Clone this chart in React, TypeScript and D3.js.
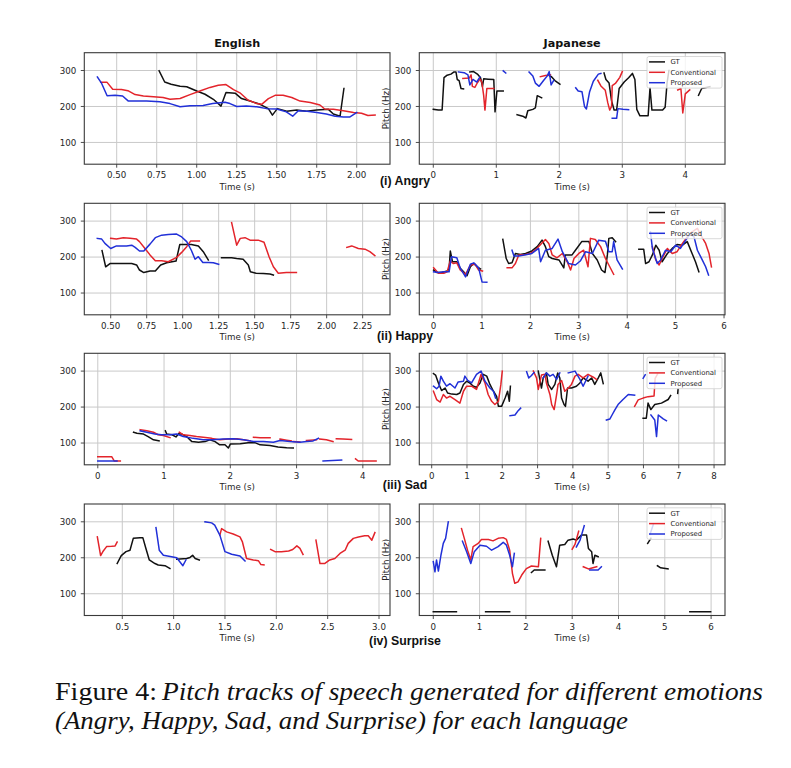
import React from 'react';
import * as d3 from 'd3';

type Pt = [number, number];
type Seg = Pt[];

// ---------- DATA ----------
const columnTitles = ['English', 'Japanese'];
const rowLabels = ['(i) Angry', '(ii) Happy', '(iii) Sad', '(iv) Surprise'];
const seriesNames = ['GT', 'Conventional', 'Proposed'];
const yTicks = [100, 200, 300];

const enAngryTicks = [0.5, 0.75, 1.0, 1.25, 1.5, 1.75, 2.0];
const jaAngryTicks = [0, 1, 2, 3, 4];
const enHappyTicks = [0.5, 0.75, 1.0, 1.25, 1.5, 1.75, 2.0, 2.25];
const jaHappyTicks = [0, 1, 2, 3, 4, 5, 6];
const enSadTicks = [0, 1, 2, 3, 4];
const jaSadTicks = [0, 1, 2, 3, 4, 5, 6, 7, 8];
const enSurpTicks = [0.5, 1.0, 1.5, 2.0, 2.5, 3.0];
const jaSurpTicks = [0, 1, 2, 3, 4, 5, 6];

const enAngryGT: Seg[] = [[[0.765,299],[0.80,268],[0.84,262],[0.896,256],[0.9375,255],[1.0,243],[1.052,234],[1.104,220],[1.152,201],[1.183,239],[1.24,237],[1.28,222],[1.333,215],[1.396,206],[1.448,194],[1.473,176],[1.504,194],[1.5625,187],[1.625,190],[1.6875,187],[1.75,190],[1.823,192],[1.854,179],[1.896,173],[1.92,250]]];
const enAngryConv: Seg[] = [[[0.40,267],[0.44,267],[0.475,248],[0.53,247],[0.57,244],[0.615,233],[0.667,229],[0.73,227],[0.79,225],[0.833,220],[0.896,222],[0.958,233],[1.02,243],[1.083,253],[1.135,259],[1.183,261],[1.23,247],[1.27,238],[1.32,218],[1.375,208],[1.406,206],[1.448,222],[1.49,231],[1.54,231],[1.594,225],[1.646,215],[1.71,211],[1.77,204],[1.80,193],[1.854,192],[1.917,188],[1.98,183],[2.03,181],[2.07,175],[2.115,176]]];
const enAngryProp: Seg[] = [[[0.379,282],[0.406,264],[0.44,230],[0.49,231],[0.537,229],[0.573,215],[0.625,215],[0.6875,215],[0.77,213],[0.833,208],[0.896,199],[0.958,202],[1.04,203],[1.10,208],[1.177,212],[1.208,208],[1.25,200],[1.31,201],[1.375,199],[1.4375,194],[1.5,193],[1.56,185],[1.60,173],[1.635,188],[1.69,187],[1.75,183],[1.81,179],[1.865,173],[1.917,171],[1.958,171],[2.0,183]]];

const jaAngryGT: Seg[] = [
  [[0,192],[0.08,190],[0.14,190],[0.17,280],[0.22,287],[0.28,290],[0.33,296],[0.36,296],[0.38,275],[0.41,272],[0.44,250],[0.48,249]],
  [[0.58,296],[0.64,297],[0.70,290],[0.75,280],[0.78,255],[0.80,277],[0.87,276],[0.96,275],[0.98,185],[1.01,243],[1.11,243]],
  [[1.33,177],[1.42,173],[1.47,168],[1.50,188],[1.58,192],[1.62,196],[1.65,230],[1.72,224]],
  [[1.83,287],[1.88,282],[1.93,272],[2.01,262]],
  [[2.71,293],[2.74,275],[2.79,265],[2.83,215],[2.87,190],[2.91,190],[2.95,250],[3.03,268],[3.10,280],[3.16,292],[3.20,275],[3.23,192],[3.28,174],[3.41,174],[3.44,252],[3.47,190],[3.64,190],[3.68,198],[3.71,265],[3.74,300]],
  [[4.21,231],[4.26,250],[4.39,255]],
];
const jaAngryConv: Seg[] = [
  [[0.47,278],[0.57,279],[0.60,288],[0.62,256],[0.66,253],[0.70,266],[0.74,276],[0.77,268],[0.80,230],[0.82,190],[0.85,250],[0.96,250]],
  [[1.70,283],[1.78,286],[1.86,288]],
  [[2.61,273],[2.66,257],[2.73,245],[2.77,210],[2.80,190],[2.83,200],[2.84,258],[2.89,264],[2.96,281],[3.0,297]],
  [[3.88,246],[3.93,250],[3.96,182],[4.0,235],[4.07,246]],
];
const jaAngryProp: Seg[] = [
  [[0.40,296],[0.49,294],[0.55,288],[0.58,260],[0.63,275],[0.69,268],[0.74,282]],
  [[1.11,299],[1.15,293]],
  [[1.52,296],[1.58,285],[1.62,265],[1.68,256],[1.75,272],[1.81,285],[1.84,297],[1.87,260],[1.91,272]],
  [[2.26,252],[2.30,243],[2.36,241],[2.40,200],[2.43,193],[2.48,240],[2.54,270],[2.62,290],[2.66,292]],
  [[2.84,167],[2.91,167],[2.93,194],[3.01,192],[3.10,191]],
];

const enHappyGT: Seg[] = [
  [[0.44,218],[0.465,173],[0.495,182],[0.54,182],[0.6,182],[0.646,182],[0.68,178],[0.70,164],[0.73,157],[0.773,161],[0.81,161],[0.847,178],[0.889,184],[0.954,189],[0.98,235],[1.06,235],[1.109,231],[1.143,215],[1.178,192]],
  [[1.27,198],[1.34,198],[1.375,196],[1.42,194],[1.456,178],[1.47,159],[1.51,155],[1.56,154],[1.606,153],[1.63,150]],
];
const enHappyConv: Seg[] = [
  [[0.5,252],[0.54,250],[0.588,254],[0.634,252],[0.68,250],[0.70,243],[0.738,224],[0.773,206],[0.81,190],[0.854,190],[0.90,187],[0.958,199],[0.993,213],[1.028,229],[1.056,245],[1.116,245]],
  [[1.34,296],[1.375,233],[1.40,252],[1.433,254],[1.468,247],[1.525,247],[1.565,241],[1.60,201],[1.63,173],[1.664,155],[1.72,157],[1.79,157]],
  [[2.14,227],[2.174,231],[2.22,224],[2.266,222],[2.30,215],[2.335,204]],
];
const enHappyProp: Seg[] = [[[0.407,252],[0.4375,250],[0.46,238],[0.5,224],[0.54,231],[0.61,231],[0.646,233],[0.67,227],[0.70,217],[0.73,217],[0.773,236],[0.81,254],[0.854,261],[0.90,263],[0.958,264],[0.993,256],[1.028,243],[1.06,219],[1.086,194],[1.109,201],[1.14,185],[1.18,185],[1.213,184],[1.25,180]]];

const jaHappyGT: Seg[] = [
  [[0,164],[0.07,157],[0.17,157],[0.28,161],[0.32,167],[0.345,217],[0.39,187],[0.48,187],[0.55,169],[0.62,159],[0.69,148],[0.76,173],[0.83,182],[0.90,173],[0.97,167]],
  [[1.43,249],[1.50,196],[1.55,182],[1.62,184],[1.69,210],[1.79,207],[1.90,210],[2.03,217],[2.14,229],[2.24,247],[2.31,229],[2.38,201],[2.45,196],[2.59,192],[2.69,170],[2.72,206],[2.86,206],[2.93,219],[3.06,243],[3.21,243],[3.28,210],[3.38,192],[3.47,164],[3.54,157],[3.59,206],[3.62,252],[3.69,254],[3.76,243]],
  [[4.24,222],[4.34,222],[4.38,182],[4.45,187],[4.52,206],[4.59,233],[4.66,219],[4.72,187],[4.83,210],[4.93,224],[5.03,235],[5.14,233],[5.24,243],[5.34,210],[5.41,187],[5.48,159]],
];
const jaHappyConv: Seg[] = [
  [[0,170],[0.10,155],[0.21,155],[0.28,159],[0.345,189],[0.41,182],[0.48,184],[0.55,164],[0.66,152],[0.76,178],[0.86,180],[0.93,164],[1.01,161]],
  [[1.52,170],[1.62,170],[1.69,182],[1.76,206],[1.90,207],[2.0,210],[2.10,219],[2.21,235],[2.31,249],[2.38,238],[2.45,206],[2.55,198],[2.66,210],[2.76,187],[2.83,164],[2.90,196],[3.0,210],[3.10,219],[3.19,173],[3.24,252],[3.34,249],[3.45,229],[3.55,196],[3.62,178],[3.72,152]],
  [[4.52,229],[4.59,192],[4.66,178],[4.72,196],[4.83,224],[4.93,210],[5.03,215],[5.14,238],[5.24,256],[5.34,270],[5.45,280],[5.52,261],[5.62,238],[5.69,210],[5.74,173]],
];
const jaHappyProp: Seg[] = [
  [[0,159],[0.10,157],[0.21,159],[0.32,159],[0.37,201],[0.48,198],[0.55,169],[0.66,145],[0.76,180],[0.83,184],[0.93,170],[1.0,131],[1.10,130]],
  [[1.62,219],[1.66,203],[1.76,203],[1.93,207],[2.03,210],[2.17,224],[2.21,187],[2.31,219],[2.45,224],[2.57,250],[2.66,215],[2.79,182],[2.93,178],[3.03,189],[3.14,215],[3.28,210],[3.41,247],[3.55,244],[3.62,215],[3.69,215],[3.72,243],[3.79,192],[3.90,167]],
  [[4.48,270],[4.52,224],[4.62,182],[4.69,192],[4.79,219],[4.90,215],[5.0,233],[5.10,224],[5.21,247],[5.31,266],[5.38,256],[5.45,219],[5.55,192],[5.62,173],[5.68,150]],
];

const enSadGT: Seg[] = [
  [[0.54,130],[0.59,127],[0.69,125],[0.76,118],[0.84,109],[0.925,106]],
  [[1.02,134],[1.04,125],[1.12,123],[1.18,117],[1.22,126],[1.27,125],[1.34,118],[1.42,104],[1.52,102],[1.62,104],[1.69,109],[1.77,104],[1.84,95],[1.92,95],[1.97,86],[2.0,97],[2.15,98],[2.27,101],[2.37,101],[2.45,95],[2.60,93],[2.72,89],[2.85,87],[2.95,86]],
];
const enSadConv: Seg[] = [
  [[0,62],[0.21,62],[0.25,50],[0.34,50]],
  [[0.64,137],[0.74,134],[0.84,130],[0.91,123],[0.99,121],[1.09,115]],
  [[1.23,130],[1.29,123],[1.39,121],[1.49,118],[1.59,116],[1.72,113],[1.84,109],[1.97,111],[2.10,112],[2.20,109],[2.30,106]],
  [[2.35,116],[2.45,115],[2.60,115]],
  [[2.75,111],[2.85,108],[2.92,106]],
  [[2.95,104],[3.05,103]],
  [[3.15,107],[3.30,109]],
  [[3.35,111],[3.45,109],[3.55,104]],
  [[3.60,112],[3.70,111],[3.83,110]],
  [[3.89,56],[3.93,50],[4.2,50]],
];
const enSadProp: Seg[] = [
  [[0,50],[0.29,50]],
  [[0.64,134],[0.74,130],[0.86,125],[0.96,123],[1.09,123],[1.19,125],[1.29,118],[1.44,113],[1.59,109],[1.74,109],[1.89,111],[2.05,112],[2.20,109],[2.35,104],[2.50,104],[2.65,102],[2.75,107],[2.90,104],[3.05,102],[3.15,104],[3.25,106],[3.33,113]],
  [[3.40,50],[3.68,53]],
];

const jaSadGT: Seg[] = [
  [[0.05,293],[0.11,289],[0.19,267],[0.28,246],[0.38,253],[0.45,239],[0.57,236],[0.71,235],[0.80,239],[0.90,263],[0.99,272],[1.08,267],[1.18,258],[1.27,255],[1.37,267],[1.46,291],[1.56,286],[1.65,263],[1.75,244],[1.84,230],[1.89,202],[1.98,202],[2.08,225],[2.15,244],[2.20,216],[2.23,258]],
  [[3.02,300],[3.11,253],[3.16,281],[3.25,295],[3.30,263],[3.40,249],[3.49,263],[3.57,295],[3.63,281],[3.68,225],[3.75,207],[3.79,202],[3.85,253],[3.96,253],[4.10,258],[4.20,267],[4.29,281],[4.43,272],[4.53,281],[4.62,263],[4.72,281],[4.79,295],[4.86,265]],
  [[5.99,169],[6.08,169],[6.13,211],[6.21,193],[6.32,207],[6.51,211],[6.70,221],[6.77,232]],
  [[6.97,238],[6.98,250]],
];
const jaSadConv: Seg[] = [
  [[0.05,244],[0.14,221],[0.24,214],[0.33,235],[0.42,225],[0.52,230],[0.66,221],[0.80,211],[0.90,244],[0.99,258],[1.13,258],[1.27,249],[1.40,291],[1.51,267],[1.60,235],[1.70,216],[1.79,207],[1.89,216],[1.96,263],[2.0,300]],
  [[2.88,300],[2.97,281],[3.02,249],[3.11,289],[3.21,291],[3.25,267],[3.35,235],[3.40,207],[3.47,193],[3.54,235],[3.58,263],[3.68,274],[3.77,244],[3.87,253],[3.96,263],[4.06,286],[4.15,291],[4.29,281],[4.43,291],[4.58,283],[4.67,277]],
  [[5.75,202],[5.85,220],[5.99,225],[6.13,229],[6.30,231],[6.33,280],[6.40,292]],
];
const jaSadProp: Seg[] = [
  [[0.05,258],[0.14,251],[0.21,258],[0.26,286],[0.33,272],[0.42,258],[0.52,265],[0.66,253],[0.75,270],[0.90,272],[0.94,286],[1.02,274],[1.13,267],[1.27,291],[1.40,300],[1.51,272],[1.65,253],[1.75,244],[1.81,225]],
  [[2.22,176],[2.36,178],[2.45,190],[2.52,197]],
  [[2.69,298],[2.75,281],[2.82,287],[2.90,296]],
  [[3.16,281],[3.25,295],[3.35,286],[3.44,291],[3.54,277],[3.63,295]],
  [[3.87,295],[4.06,300],[4.20,277],[4.29,258],[4.43,286]],
  [[4.95,164],[5.05,167],[5.11,178],[5.19,192],[5.28,207],[5.42,221],[5.57,235],[5.75,233]],
  [[5.99,280],[6.05,290]],
  [[6.21,178],[6.32,164],[6.37,118],[6.42,178],[6.56,167],[6.65,162]],
];

const enSurpGT: Seg[] = [
  [[0.45,184],[0.49,206],[0.536,217],[0.575,221],[0.607,254],[0.672,256],[0.70,256],[0.73,226],[0.763,194],[0.818,184],[0.85,180],[0.916,178],[0.964,170]],
  [[1.03,196],[1.127,198],[1.16,201],[1.185,207],[1.21,198],[1.25,194]],
];
const enSurpConv: Seg[] = [
  [[0.257,258],[0.289,206],[0.315,219],[0.347,231],[0.396,232],[0.43,233],[0.45,244]],
  [[1.45,263],[1.467,281],[1.516,272],[1.58,266],[1.646,258],[1.67,244],[1.71,198],[1.776,194],[1.825,192],[1.85,181],[1.88,180]],
  [[1.945,223],[1.987,217],[2.05,217],[2.12,219],[2.16,223],[2.20,233],[2.23,226],[2.26,209]],
  [[2.386,249],[2.425,184],[2.47,184],[2.52,194],[2.57,198],[2.62,212],[2.67,221],[2.70,240],[2.75,254],[2.80,258],[2.86,261],[2.895,261],[2.93,249],[2.96,270]],
];
const enSurpProp: Seg[] = [
  [[0.828,284],[0.86,221],[0.90,207],[0.98,203],[1.03,200],[1.09,178],[1.12,194]],
  [[1.305,300],[1.37,297],[1.40,291],[1.45,263],[1.50,217],[1.565,210],[1.646,205],[1.695,191]],
];

const jaSurpGT: Seg[] = [
  [[0,50],[0.50,50]],
  [[1.13,50],[1.65,50]],
  [[2.12,159],[2.18,166],[2.41,166]],
  [[2.48,246],[2.57,207],[2.66,175],[2.73,235],[2.84,237],[2.91,249],[3.02,252],[3.09,249],[3.20,263],[3.31,263],[3.35,226],[3.42,217],[3.45,184],[3.49,207],[3.56,203]],
  [[4.63,240],[4.70,254]],
  [[4.84,178],[4.91,172],[5.07,169]],
  [[5.54,50],[5.99,50]],
];
const jaSurpConv: Seg[] = [
  [[0.61,281],[0.67,254],[0.74,221],[0.81,194],[0.86,231],[0.97,240],[1.04,251],[1.19,251],[1.29,247],[1.40,254],[1.51,256],[1.58,251],[1.65,221],[1.71,156],[1.76,129],[1.83,133],[1.91,152],[2.01,170],[2.12,177],[2.27,175],[2.32,254]],
  [[3.0,224],[3.06,237],[3.14,274]],
  [[3.24,175],[3.35,169],[3.53,175]],
];
const jaSurpProp: Seg[] = [
  [[0,189],[0.036,161],[0.07,194],[0.11,163],[0.165,207],[0.216,240],[0.266,254],[0.324,300]],
  [[0.63,246],[0.72,217],[0.81,184],[0.885,217],[1.01,235],[1.15,232],[1.26,221],[1.40,231],[1.51,243],[1.58,235],[1.65,207],[1.71,175],[1.75,212]],
  [[3.09,230],[3.17,249],[3.26,289]],
  [[3.38,166],[3.56,166],[3.63,175]],
  [[4.68,265],[4.75,292]],
];

const captionLead = 'Figure 4:';
const captionLine1 = 'Pitch tracks of speech generated for different emotions';
const captionLine2 = '(Angry, Happy, Sad, and Surprise) for each language';

// ---------- LAYOUT / STYLE ----------
const W = 791;
const H = 768;
const COLS_X = [84.3, 419.3];
const AX_W = 305.7;
const ROWS_Y = [52.7, 203.3, 353.3, 504];
const AX_H = 111.5;
const Y_DOMAIN: [number, number] = [39.5, 349.5];
const COLORS = ['#111111', '#e3242b', '#2130d8'];
const SPINE = '#3a3a3a';
const GRID = '#c9c9c9';
const TICK_FONT = 'DejaVu Sans, sans-serif';
const ROW_LABEL_Y = [185, 339.5, 489, 645];

interface PanelSpec {
  row: number;
  col: number;
  xDomain: [number, number];
  ticks: number[];
  fmt: (v: number) => string;
  series: Seg[][];
}

const f2 = d3.format('.2f');
const f1 = d3.format('.1f');
const f0 = d3.format('d');

const panels: PanelSpec[] = [
  { row: 0, col: 0, xDomain: [0.2975, 2.208], ticks: enAngryTicks, fmt: f2, series: [enAngryGT, enAngryConv, enAngryProp] },
  { row: 0, col: 1, xDomain: [-0.222, 4.63], ticks: jaAngryTicks, fmt: f0, series: [jaAngryGT, jaAngryConv, jaAngryProp] },
  { row: 1, col: 0, xDomain: [0.3167, 2.44], ticks: enHappyTicks, fmt: f2, series: [enHappyGT, enHappyConv, enHappyProp] },
  { row: 1, col: 1, xDomain: [-0.2955, 6.02], ticks: jaHappyTicks, fmt: f0, series: [jaHappyGT, jaHappyConv, jaHappyProp] },
  { row: 2, col: 0, xDomain: [-0.2035, 4.41], ticks: enSadTicks, fmt: f0, series: [enSadGT, enSadConv, enSadProp] },
  { row: 2, col: 1, xDomain: [-0.351, 8.31], ticks: jaSadTicks, fmt: f0, series: [jaSadGT, jaSadConv, jaSadProp] },
  { row: 3, col: 0, xDomain: [0.13, 3.107], ticks: enSurpTicks, fmt: f1, series: [enSurpGT, enSurpConv, enSurpProp] },
  { row: 3, col: 1, xDomain: [-0.302, 6.30], ticks: jaSurpTicks, fmt: f0, series: [jaSurpGT, jaSurpConv, jaSurpProp] },
];

function Panel({ spec, idx }: { spec: PanelSpec; idx: number }) {
  const x0 = COLS_X[spec.col];
  const y0 = ROWS_Y[spec.row];
  const x = d3.scaleLinear().domain(spec.xDomain).range([x0, x0 + AX_W]);
  const y = d3.scaleLinear().domain(Y_DOMAIN).range([y0 + AX_H, y0]);
  const line = d3.line<Pt>().x((d) => x(d[0])).y((d) => y(d[1]));
  const clipId = `clip-${idx}`;
  const isRight = spec.col === 1;
  const axR = x0 + AX_W;
  return (
    <g>
      <defs>
        <clipPath id={clipId}>
          <rect x={x0} y={y0} width={AX_W} height={AX_H} />
        </clipPath>
      </defs>
      <rect x={x0} y={y0} width={AX_W} height={AX_H} fill="#fff" />
      {/* grid */}
      {spec.ticks.map((t) => (
        <line key={`gx${t}`} x1={x(t)} x2={x(t)} y1={y0} y2={y0 + AX_H} stroke={GRID} strokeWidth={1} />
      ))}
      {yTicks.map((t) => (
        <line key={`gy${t}`} x1={x0} x2={axR} y1={y(t)} y2={y(t)} stroke={GRID} strokeWidth={1} />
      ))}
      {/* lines */}
      <g clipPath={`url(#${clipId})`}>
        {spec.series.map((segs, si) =>
          segs.map((seg, k) => (
            <path key={`s${si}-${k}`} d={line(seg) || ''} fill="none" stroke={COLORS[si]} strokeWidth={1.5} strokeLinejoin="round" strokeLinecap="square" />
          ))
        )}
      </g>
      {/* spine */}
      <rect x={x0} y={y0} width={AX_W} height={AX_H} fill="none" stroke={SPINE} strokeWidth={1.1} />
      {/* x ticks */}
      {spec.ticks.map((t) => (
        <g key={`tx${t}`}>
          <line x1={x(t)} x2={x(t)} y1={y0 + AX_H} y2={y0 + AX_H + 3.5} stroke={SPINE} strokeWidth={0.9} />
          <text x={x(t)} y={y0 + AX_H + 14} textAnchor="middle" fontFamily={TICK_FONT} fontSize={8.7} fill="#262626">
            {spec.fmt(t)}
          </text>
        </g>
      ))}
      {/* y ticks */}
      {yTicks.map((t) => (
        <g key={`ty${t}`}>
          <line x1={x0 - 3.5} x2={x0} y1={y(t)} y2={y(t)} stroke={SPINE} strokeWidth={0.9} />
          <text x={x0 - 8} y={y(t) + 3.1} textAnchor="end" fontFamily={TICK_FONT} fontSize={8.7} fill="#262626">
            {t}
          </text>
        </g>
      ))}
      <text x={x0 + AX_W / 2} y={y0 + AX_H + 25.6} textAnchor="middle" fontFamily={TICK_FONT} fontSize={8.7} fill="#262626">
        Time (s)
      </text>
      {isRight && (
        <text
          transform={`translate(${x0 - 30.5},${y0 + AX_H / 2}) rotate(-90)`}
          textAnchor="middle"
          fontFamily={TICK_FONT}
          fontSize={8.7}
          fill="#262626"
        >
          Pitch (Hz)
        </text>
      )}
      {isRight && (
        <g>
          <rect x={axR - 78} y={y0 + 3.8} width={75} height={31.6} rx={2} fill="#fff" fillOpacity={0.8} stroke="#cfcfcf" strokeWidth={0.8} />
          {seriesNames.map((n, i) => (
            <g key={n}>
              <line x1={axR - 76} x2={axR - 60} y1={y0 + 9.2 + i * 10.4} y2={y0 + 9.2 + i * 10.4} stroke={COLORS[i]} strokeWidth={1.5} />
              <text x={axR - 54.5} y={y0 + 11.6 + i * 10.4} fontFamily={TICK_FONT} fontSize={6.9} fill="#262626">
                {n}
              </text>
            </g>
          ))}
        </g>
      )}
    </g>
  );
}

export default function App() {
  return (
    <svg width={W} height={H} viewBox={`0 0 ${W} ${H}`} style={{ position: 'absolute', left: 0, top: 0, background: '#fff' }}>
      <rect x={0} y={0} width={W} height={H} fill="#fff" />
      {columnTitles.map((t, i) => (
        <text key={t} x={COLS_X[i] + AX_W / 2} y={47} textAnchor="middle" fontFamily={TICK_FONT} fontWeight="bold" fontSize={11.2} fill="#111">
          {t}
        </text>
      ))}
      {panels.map((p, i) => (
        <Panel key={i} spec={p} idx={i} />
      ))}
      {rowLabels.map((t, i) => (
        <text key={t} x={405} y={ROW_LABEL_Y[i]} textAnchor="middle" fontFamily="Liberation Sans, Arial, sans-serif" fontWeight="bold" fontSize={12.3} fill="#111">
          {t}
        </text>
      ))}
      <text x={55} y={700} fontFamily="Liberation Serif, Times New Roman, serif" fontSize={25} fill="#111" textLength={102} lengthAdjust="spacingAndGlyphs">
        {captionLead}
      </text>
      <text x={162} y={700} fontFamily="Liberation Serif, Times New Roman, serif" fontStyle="italic" fontSize={25} fill="#111" textLength={601} lengthAdjust="spacingAndGlyphs">
        {captionLine1}
      </text>
      <text x={55} y={729} fontFamily="Liberation Serif, Times New Roman, serif" fontStyle="italic" fontSize={25} fill="#111" textLength={573} lengthAdjust="spacingAndGlyphs">
        {captionLine2}
      </text>
    </svg>
  );
}
